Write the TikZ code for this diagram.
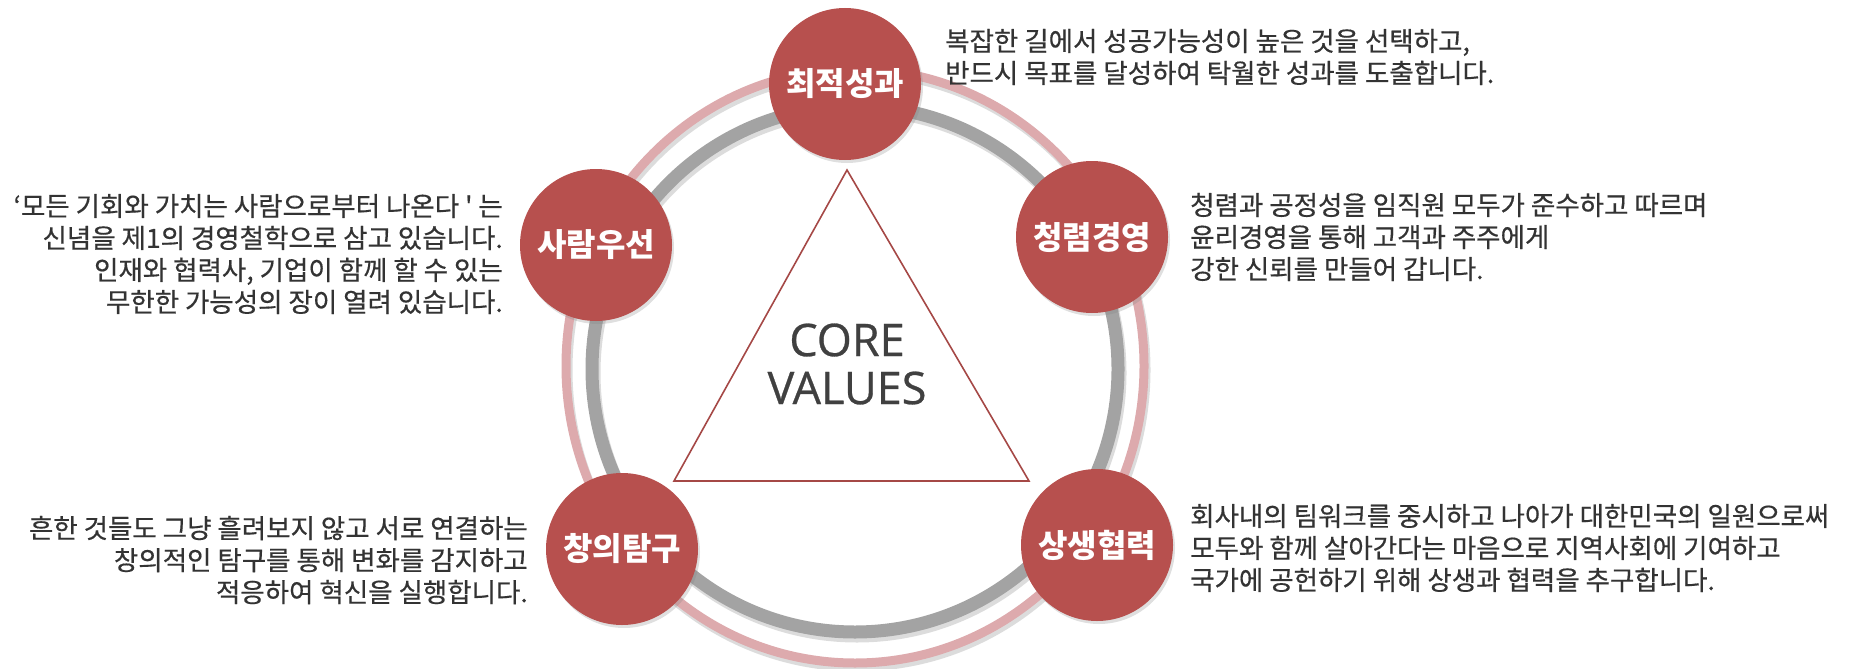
\documentclass[tikz,border=0pt]{standalone}
\usepackage{fontspec}
\usepackage{xcolor}
\usepackage{tikz}
\usetikzlibrary{positioning,calc,shapes,shadows}
\setmainfont{Noto Sans CJK KR}[Ligatures=TeXOff]
\newfontfamily\descfont{Noto Sans CJK KR}[Ligatures=TeXOff, FakeBold=0.5]
\newfontfamily\corefont{Open Sans}[FakeBold=0.6]
\definecolor{valred}{RGB}{183,80,78}
\definecolor{ringpink}{RGB}{221,170,173}
\definecolor{ringgrey}{RGB}{163,163,163}
\definecolor{txtgrey}{RGB}{51,51,51}
\definecolor{coregrey}{RGB}{64,64,64}
\tikzstyle{val}=[circle, fill=valred, text=white, minimum size=152pt, inner sep=0pt, font=\fontsize{32}{36}\selectfont\bfseries, drop shadow={shadow xshift=2pt, shadow yshift=-3pt, opacity=0.25}]
\tikzstyle{descl}=[anchor=west, align=left, inner sep=0pt, text=txtgrey, font=\descfont\fontsize{26.5}{32}\selectfont]
\tikzstyle{descr}=[anchor=east, align=right, inner sep=0pt, text=txtgrey, font=\descfont\fontsize{26.5}{32}\selectfont]
\tikzstyle{ringshade}=[black!30, opacity=0.45]

\begin{document}
\begin{tikzpicture}[x=1pt,y=-1pt]
	\useasboundingbox (0,0) rectangle (1852,669);
	\coordinate (pinkc) at (855,366);
	\coordinate (greyc) at (855,369);
	
	% rings
	\draw[ringshade, line width=9pt] ($(pinkc)+(2,4)$) ellipse[x radius=289pt, y radius=297pt];
	\draw[ringpink, line width=9pt] (pinkc) ellipse[x radius=289pt, y radius=297pt];
	\draw[ringshade, line width=13pt] ($(greyc)+(2,4)$) circle[radius=263pt];
	\draw[ringgrey, line width=13pt] (greyc) circle[radius=263pt];
	
	% triangle
	\draw[valred!90!black, line width=1.6pt, fill=white] (847,170) -- (1029,481) -- (674,481) -- cycle;
	\node[font=\corefont\fontsize{45}{48}\selectfont, text=coregrey, align=center] (core) at (847,364) {CORE\\VALUES};
	
	\node[val] (optim) at (845,84) {최적성과};
	\node[val] (clean) at (1092,237) {청렴경영};
	\node[val] (coop) at (1097,545) {상생협력};
	\node[val] (creat) at (622,549) {창의탐구};
	\node[val] (people) at (596,245) {사람우선};
	
	\node[descl] (optimtxt) at (945,57) {복잡한 길에서 성공가능성이 높은 것을 선택하고,\\반드시 목표를 달성하여 탁월한 성과를 도출합니다.};
	\node[descl] (cleantxt) at (1190,237) {청렴과 공정성을 임직원 모두가 준수하고 따르며\\윤리경영을 통해 고객과 주주에게\\강한 신뢰를 만들어 갑니다.};
	\node[descl] (cooptxt) at (1190,548) {회사내의 팀워크를 중시하고 나아가 대한민국의 일원으로써\\모두와 함께 살아간다는 마음으로 지역사회에 기여하고\\국가에 공헌하기 위해 상생과 협력을 추구합니다.};
	\node[descr] (creattxt) at (528,560) {흔한 것들도 그냥 흘려보지 않고 서로 연결하는\\창의적인 탐구를 통해 변화를 감지하고\\적응하여 혁신을 실행합니다.};
	\node[descr] (peopletxt) at (503,254) {‘모든 기회와 가치는 사람으로부터 나온다 ' 는\\신념을 제1의 경영철학으로 삼고 있습니다.\\인재와 협력사, 기업이 함께 할 수 있는\\무한한 가능성의 장이 열려 있습니다.};
\end{tikzpicture}
\end{document}
